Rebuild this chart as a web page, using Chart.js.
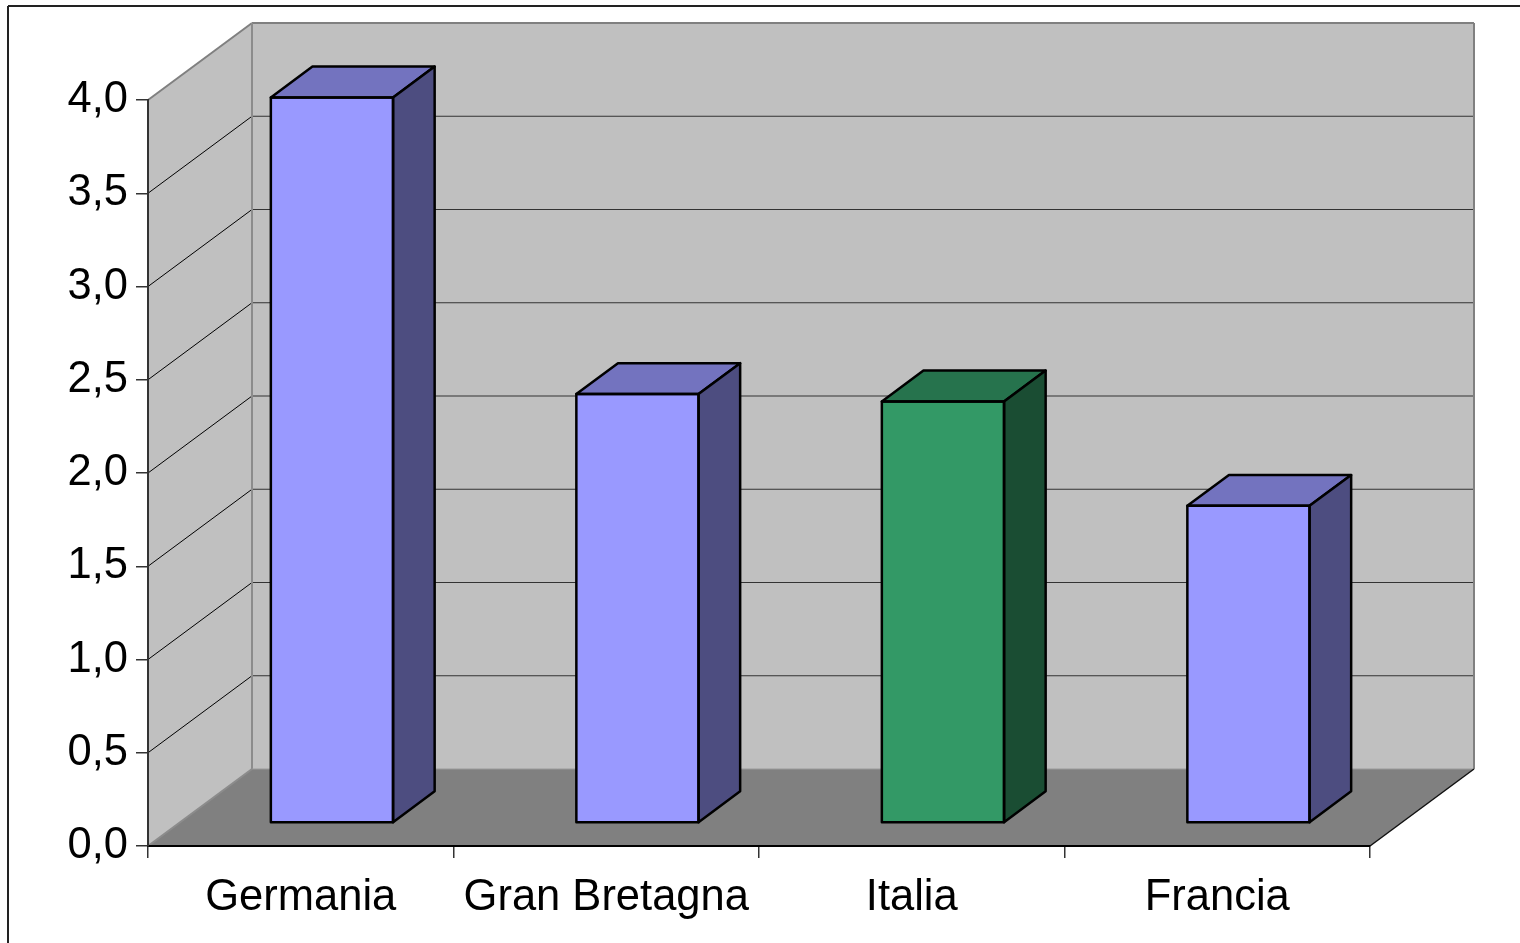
<!DOCTYPE html>
<html>
<head>
<meta charset="utf-8">
<script src="https://cdn.jsdelivr.net/npm/chart.js@4/dist/chart.umd.min.js"></script>
<style>
  html, body { margin: 0; padding: 0; background: #fff; }
  canvas { display: block; }
</style>
</head>
<body>
<canvas id="paesiChart" width="1520" height="943"></canvas>
<script>
const paesi = ['Germania', 'Gran Bretagna', 'Italia', 'Francia'];
const valori = [3.89, 2.3, 2.26, 1.7];
const yTickLabels = ['0,0', '0,5', '1,0', '1,5', '2,0', '2,5', '3,0', '3,5', '4,0'];

// front face colours; top and side are shaded from these
const barColors = ['#9999ff', '#9999ff', '#339966', '#9999ff'];

// 3d box: full depth of the plot, bars sit between 30% and 70% of it
const DEPTH_X = 104;
const DEPTH_Y = 77;
const BAR_FRONT = 0.3;
const BAR_DEPTH = 0.4;

function shade(hex, k) {
  const n = parseInt(hex.slice(1), 16);
  const r = Math.round(((n >> 16) & 255) * k);
  const g = Math.round(((n >> 8) & 255) * k);
  const b = Math.round((n & 255) * k);
  return 'rgb(' + r + ',' + g + ',' + b + ')';
}

function line(ctx, x1, y1, x2, y2, color, w) {
  ctx.beginPath();
  ctx.moveTo(x1, y1);
  ctx.lineTo(x2, y2);
  ctx.strokeStyle = color;
  ctx.lineWidth = w;
  ctx.stroke();
}

const box3d = {
  id: 'box3d',
  beforeDraw(chart) {
    const ctx = chart.ctx;
    const { left, right, top, bottom } = chart.chartArea;
    const yScale = chart.scales.y;
    ctx.save();

    // frame around the picture
    line(ctx, 8, 6, chart.width, 6, '#222', 2);
    line(ctx, 8, 6, 8, chart.height, '#222', 2);

    // left wall
    ctx.fillStyle = '#c0c0c0';
    ctx.beginPath();
    ctx.moveTo(left, top);
    ctx.lineTo(left + DEPTH_X, top - DEPTH_Y);
    ctx.lineTo(left + DEPTH_X, bottom - DEPTH_Y);
    ctx.lineTo(left, bottom);
    ctx.closePath();
    ctx.fill();

    // back wall
    ctx.fillRect(left + DEPTH_X, top - DEPTH_Y, right - left, bottom - top);

    // floor
    ctx.fillStyle = '#808080';
    ctx.beginPath();
    ctx.moveTo(left, bottom);
    ctx.lineTo(left + DEPTH_X, bottom - DEPTH_Y);
    ctx.lineTo(right + DEPTH_X, bottom - DEPTH_Y);
    ctx.lineTo(right, bottom);
    ctx.closePath();
    ctx.fill();

    // grid on back wall and diagonals on the left wall
    yScale.ticks.forEach(t => {
      const py = yScale.getPixelForValue(t.value);
      if (t.value > 0 && t.value < 4) {
        line(ctx, left + DEPTH_X, py - DEPTH_Y, right + DEPTH_X, py - DEPTH_Y, '#333', 1.2);
        line(ctx, left, py, left + DEPTH_X, py - DEPTH_Y, '#000', 1);
      }
    });

    // wall edges
    line(ctx, left, top, left + DEPTH_X, top - DEPTH_Y, '#808080', 2);
    line(ctx, left + DEPTH_X, top - DEPTH_Y, right + DEPTH_X, top - DEPTH_Y, '#808080', 2);
    line(ctx, left + DEPTH_X, top - DEPTH_Y, left + DEPTH_X, bottom - DEPTH_Y, '#8c8c8c', 2);
    line(ctx, right + DEPTH_X, top - DEPTH_Y, right + DEPTH_X, bottom - DEPTH_Y, '#808080', 2);
    line(ctx, left + DEPTH_X, bottom - DEPTH_Y, right + DEPTH_X, bottom - DEPTH_Y, '#9a9a9a', 1);
    line(ctx, left, bottom, left + DEPTH_X, bottom - DEPTH_Y, '#8c8c8c', 2);
    line(ctx, right, bottom, right + DEPTH_X, bottom - DEPTH_Y, '#111', 1.5);
    ctx.restore();
  },
  beforeDatasetsDraw(chart) {
    // bars stand a little behind the front edge of the floor
    chart.ctx.save();
    chart.ctx.translate(DEPTH_X * BAR_FRONT, -DEPTH_Y * BAR_FRONT);
  },
  afterDatasetsDraw(chart) {
    const ctx = chart.ctx;
    const bx = DEPTH_X * BAR_DEPTH;
    const by = DEPTH_Y * BAR_DEPTH;
    chart.getDatasetMeta(0).data.forEach((bar, i) => {
      const { x, y, base, width } = bar.getProps(['x', 'y', 'base', 'width'], true);
      const l = x - width / 2;
      const r = x + width / 2;
      ctx.lineWidth = 2.5;
      ctx.lineJoin = 'round';
      ctx.strokeStyle = '#000';

      ctx.beginPath();
      ctx.moveTo(l, y);
      ctx.lineTo(r, y);
      ctx.lineTo(r + bx, y - by);
      ctx.lineTo(l + bx, y - by);
      ctx.closePath();
      ctx.fillStyle = shade(barColors[i], 0.75);
      ctx.fill();
      ctx.stroke();

      ctx.beginPath();
      ctx.moveTo(r, y);
      ctx.lineTo(r + bx, y - by);
      ctx.lineTo(r + bx, base - by);
      ctx.lineTo(r, base);
      ctx.closePath();
      ctx.fillStyle = shade(barColors[i], 0.5);
      ctx.fill();
      ctx.stroke();

      ctx.strokeRect(l, y, width, base - y);
    });
    ctx.restore();
  }
};

const labelFont = { family: '"Liberation Sans", Arial, sans-serif', size: 43.5 };

new Chart(document.getElementById('paesiChart'), {
  type: 'bar',
  data: {
    labels: paesi,
    datasets: [{
      data: valori,
      backgroundColor: barColors,
      borderWidth: 0,
      categoryPercentage: 0.4,
      barPercentage: 1.0,
      clip: false
    }]
  },
  options: {
    responsive: false,
    animation: false,
    events: [],
    layout: { padding: { top: 100, right: 150, left: 0, bottom: 0 } },
    plugins: {
      legend: { display: false },
      tooltip: { enabled: false }
    },
    scales: {
      x: {
        afterFit: s => { s.height = 97; },
        grid: { drawOnChartArea: false, drawTicks: true, tickLength: 12, color: '#333', lineWidth: 1.5 },
        border: { display: true, color: '#000', width: 2 },
        ticks: { font: labelFont, color: '#000', padding: 14, maxRotation: 0 }
      },
      y: {
        min: 0,
        max: 4,
        afterFit: s => { s.width = 148; },
        grid: { drawOnChartArea: false, drawTicks: true, tickLength: 12, color: '#333', lineWidth: 1.5 },
        border: { display: true, color: '#333', width: 2 },
        ticks: {
          stepSize: 0.5,
          font: labelFont,
          color: '#000',
          padding: 8,
          callback: (v, i) => yTickLabels[i]
        }
      }
    }
  },
  plugins: [box3d]
});
</script>
</body>
</html>
